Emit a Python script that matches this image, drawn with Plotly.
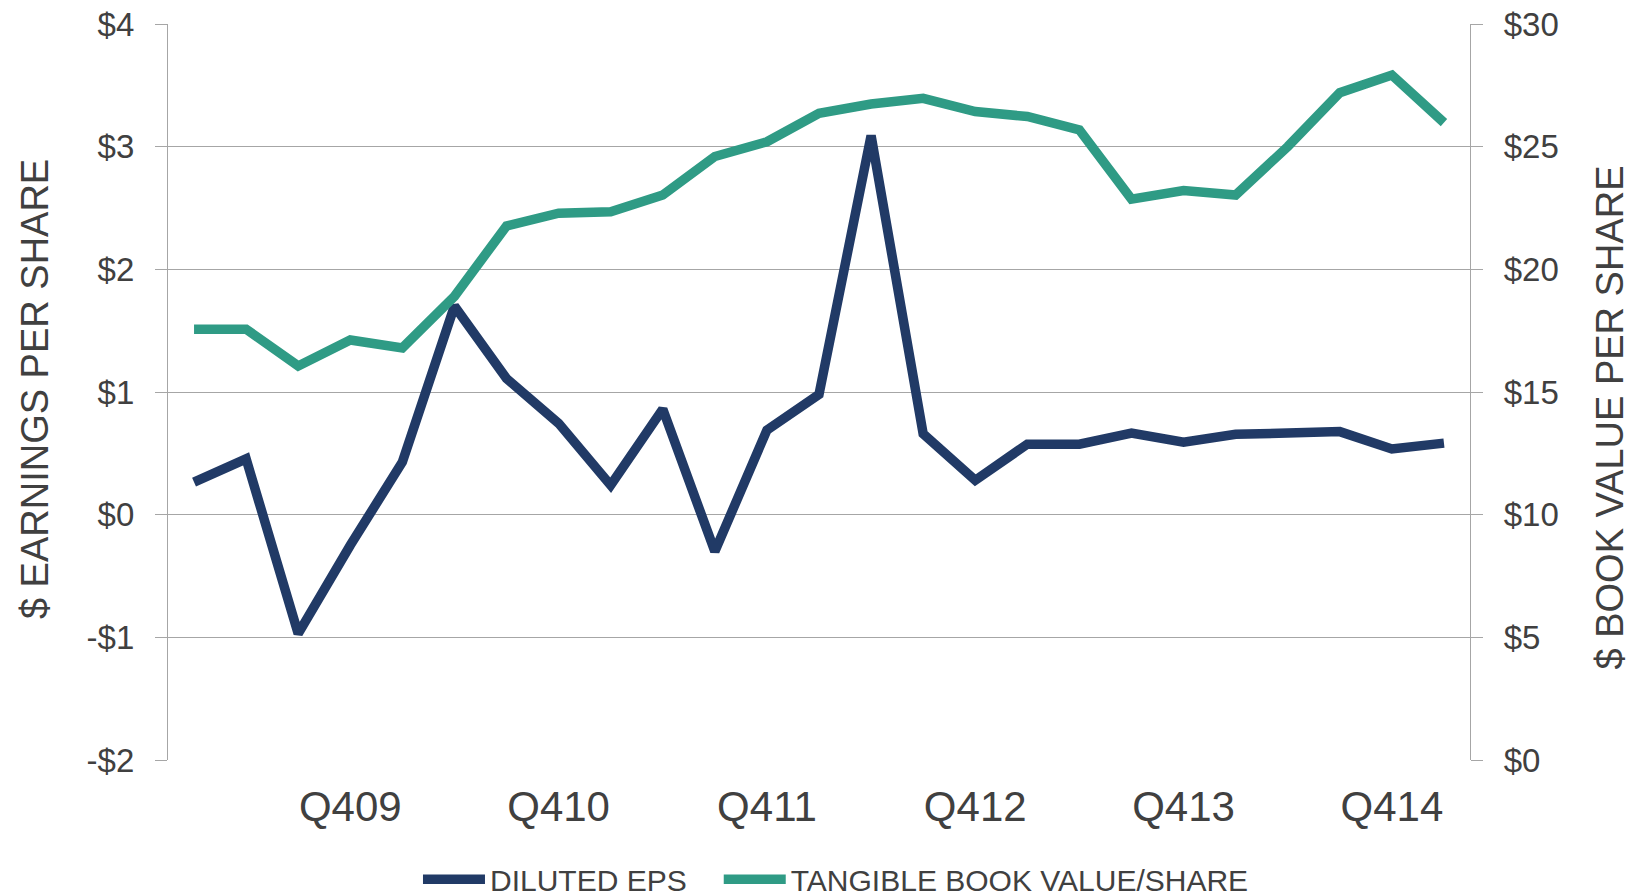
import plotly.graph_objects as go

quarters = ["Q109", "Q209", "Q309", "Q409",
            "Q110", "Q210", "Q310", "Q410",
            "Q111", "Q211", "Q311", "Q411",
            "Q112", "Q212", "Q312", "Q412",
            "Q113", "Q213", "Q313", "Q413",
            "Q114", "Q214", "Q314", "Q414",
            "Q115"]
diluted_eps = [0.265, 0.455, -0.97, -0.25, 0.43, 1.70, 1.11, 0.745,
               0.24, 0.86, -0.30, 0.69, 0.98, 3.09, 0.66, 0.28,
               0.575, 0.575, 0.665, 0.59, 0.655, 0.672, 0.677, 0.536,
               0.583]
tangible_bv = [17.56, 17.56, 16.06, 17.12, 16.8, 18.9, 21.77, 22.29,
               22.35, 23.03, 24.6, 25.2, 26.36, 26.74, 26.97, 26.43,
               26.23, 25.68, 22.86, 23.21, 23.03, 25.0, 27.2, 27.92,
               25.98]
x_tick_vals = ["Q409", "Q410", "Q411", "Q412", "Q413", "Q414"]
eps_tick_vals = [-2, -1, 0, 1, 2, 3, 4]
eps_tick_text = ["-$2", "-$1", "$0", "$1", "$2", "$3", "$4"]
bv_tick_vals = [0, 5, 10, 15, 20, 25, 30]
bv_tick_text = ["$0", "$5", "$10", "$15", "$20", "$25", "$30"]
left_title = "$ EARNINGS PER SHARE"
right_title = "$ BOOK VALUE PER SHARE"

NAVY = "#213a66"
TEAL = "#2f9b85"
GRID = "#a6a6a6"
TXT = "#404040"
FONT = "Liberation Sans, Arial, sans-serif"

fig = go.Figure()
fig.add_trace(go.Scatter(x=quarters, y=diluted_eps, name="DILUTED EPS",
                         mode="lines", line=dict(color=NAVY, width=9.5),
                         yaxis="y", legend="legend"))
fig.add_trace(go.Scatter(x=quarters, y=tangible_bv, name="TANGIBLE BOOK VALUE/SHARE",
                         mode="lines", line=dict(color=TEAL, width=9.5),
                         yaxis="y2", legend="legend2"))

legend_common = dict(orientation="h", y=-0.162, xanchor="left", yanchor="middle",
                     font=dict(family=FONT, size=30, color=TXT),
                     itemwidth=62, bgcolor="rgba(0,0,0,0)")

fig.update_layout(
    width=1644, height=896,
    margin=dict(l=160, r=182, t=16, b=144, autoexpand=False),
    paper_bgcolor="white", plot_bgcolor="white",
    font=dict(family=FONT, color=TXT),
    showlegend=True,
    legend=dict(x=0.192, **legend_common),
    legend2=dict(x=0.423, **legend_common),
    xaxis=dict(type="category", range=[-0.5, 24.5], tickmode="array",
               tickvals=x_tick_vals, ticktext=x_tick_vals, showgrid=False,
               showline=False, ticks="", tickfont=dict(size=42, color=TXT),
               ticklabelstandoff=18, zeroline=False),
    yaxis=dict(range=[-2, 4], tickmode="array", tickvals=eps_tick_vals, ticktext=eps_tick_text,
               showgrid=True, gridcolor=GRID, gridwidth=1.3, zeroline=False,
               showline=True, linecolor=GRID, linewidth=1.3,
               ticks="outside", ticklen=12, tickcolor=GRID, tickwidth=1.3,
               tickfont=dict(size=33, color=TXT), ticklabelstandoff=14,
               ticklabeloverflow="allow"),
    yaxis2=dict(range=[0, 30], overlaying="y", side="right", tickmode="array",
                tickvals=bv_tick_vals, ticktext=bv_tick_text, showgrid=False, zeroline=False,
                showline=True, linecolor=GRID, linewidth=1.3,
                ticks="outside", ticklen=12, tickcolor=GRID, tickwidth=1.3,
                tickfont=dict(size=33, color=TXT), ticklabelstandoff=14,
                ticklabeloverflow="allow"),
    annotations=[
        dict(text=left_title, xref="paper", yref="paper", x=-0.1021, y=0.504,
             xanchor="center", yanchor="middle", textangle=-90, showarrow=False,
             font=dict(size=38, color=TXT, family=FONT)),
        dict(text=right_title, xref="paper", yref="paper", x=1.1079, y=0.466,
             xanchor="center", yanchor="middle", textangle=-90, showarrow=False,
             font=dict(size=38, color=TXT, family=FONT)),
    ],
)

fig.write_html("out.html")
